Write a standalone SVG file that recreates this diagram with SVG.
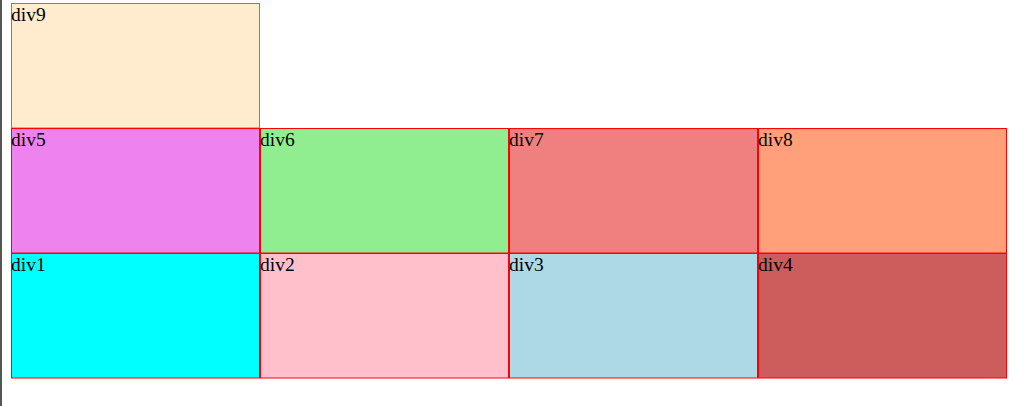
<svg xmlns="http://www.w3.org/2000/svg" width="1024" height="406" viewBox="0 0 1024 406">
<style>
.box{stroke:#ff0000;stroke-width:1}
.lbl{font-family:"Liberation Serif","Times New Roman",serif;font-size:19.5px;fill:#000}
</style>
<rect x="0" y="0" width="1024" height="406" fill="#ffffff"/>
<rect x="0" y="0" width="2" height="406" fill="#555555"/>
<g id="div9"><rect x="11.5" y="3.5" width="248" height="124.5" fill="#ffebcd" stroke="#f05050" stroke-width="1"/><text class="lbl" x="11" y="21">div9</text></g>
<g id="div5"><rect class="box" x="11.5" y="128.5" width="248" height="124.5" fill="#ee82ee"/><text class="lbl" x="11" y="146">div5</text></g>
<g id="div6"><rect class="box" x="260.5" y="128.5" width="248" height="124.5" fill="#90ee90"/><text class="lbl" x="260" y="146">div6</text></g>
<g id="div7"><rect class="box" x="509.5" y="128.5" width="248" height="124.5" fill="#f08080"/><text class="lbl" x="509" y="146">div7</text></g>
<g id="div8"><rect class="box" x="758.5" y="128.5" width="248" height="124.5" fill="#ffa07a"/><text class="lbl" x="758" y="146">div8</text></g>
<g id="div1"><rect class="box" x="11.5" y="253.5" width="248" height="124.5" fill="#00ffff"/><text class="lbl" x="11" y="271">div1</text></g>
<g id="div2"><rect class="box" x="260.5" y="253.5" width="248" height="124.5" fill="#ffc0cb"/><text class="lbl" x="260" y="271">div2</text></g>
<g id="div3"><rect class="box" x="509.5" y="253.5" width="248" height="124.5" fill="#add8e6"/><text class="lbl" x="509" y="271">div3</text></g>
<g id="div4"><rect class="box" x="758.5" y="253.5" width="248" height="124.5" fill="#cd5c5c"/><text class="lbl" x="758" y="271">div4</text></g>
<g id="connectors"></g>
</svg>
